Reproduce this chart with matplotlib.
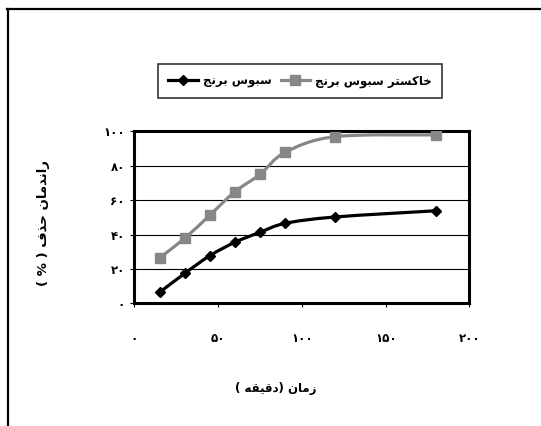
import numpy as np
import matplotlib
matplotlib.use('Agg')
import matplotlib.pyplot as plt
from matplotlib.path import Path
from matplotlib.patches import PathPatch
from matplotlib.lines import Line2D

# time (minutes) and removal efficiency (%) for both adsorbents
time_min = [15, 30, 45, 60, 75, 90, 120, 180]
ash_removal = [26.5, 37.8, 51.3, 64.9, 75.0, 87.8, 96.9, 97.9]
bran_removal = [6.4, 17.4, 27.7, 35.5, 41.3, 46.5, 50.2, 53.8]

x_ticks = [0, 50, 100, 150, 200]
y_ticks = [0, 20, 40, 60, 80, 100]

ASH_NAME = 'خاکستر سبوس برنج'
BRAN_NAME = 'سبوس برنج'
X_TITLE = 'زمان (دقیقه )'
Y_TITLE = 'راندمان حذف ( % )'

GRAY = '#878787'
BLACK = '#000000'

# contextual forms: isolated, final, initial, medial
FORMS = {
    'ا': ('\uFE8D', '\uFE8E', None, None),
    'ب': ('\uFE8F', '\uFE90', '\uFE91', '\uFE92'),
    'ت': ('\uFE95', '\uFE96', '\uFE97', '\uFE98'),
    'ج': ('\uFE9D', '\uFE9E', '\uFE9F', '\uFEA0'),
    'ح': ('\uFEA1', '\uFEA2', '\uFEA3', '\uFEA4'),
    'خ': ('\uFEA5', '\uFEA6', '\uFEA7', '\uFEA8'),
    'د': ('\uFEA9', '\uFEAA', None, None),
    'ذ': ('\uFEAB', '\uFEAC', None, None),
    'ر': ('\uFEAD', '\uFEAE', None, None),
    'ز': ('\uFEAF', '\uFEB0', None, None),
    'س': ('\uFEB1', '\uFEB2', '\uFEB3', '\uFEB4'),
    'ف': ('\uFED1', '\uFED2', '\uFED3', '\uFED4'),
    'ق': ('\uFED5', '\uFED6', '\uFED7', '\uFED8'),
    'ک': ('\uFB8E', '\uFB8F', '\uFB90', '\uFB91'),
    'م': ('\uFEE1', '\uFEE2', '\uFEE3', '\uFEE4'),
    'ن': ('\uFEE5', '\uFEE6', '\uFEE7', '\uFEE8'),
    'ه': ('\uFEE9', '\uFEEA', '\uFEEB', '\uFEEC'),
    'و': ('\uFEED', '\uFEEE', None, None),
    'ی': ('\uFBFC', '\uFBFD', '\uFBFE', '\uFBFF'),
}


def rtl(text):
    """Join Persian letters and flip to visual order for matplotlib."""
    out = []
    for i, ch in enumerate(text):
        if ch not in FORMS:
            out.append(ch)
            continue
        iso, fin, ini, med = FORMS[ch]
        prev = text[i - 1] if i > 0 else ''
        nxt = text[i + 1] if i + 1 < len(text) else ''
        j_prev = prev in FORMS and FORMS[prev][2] is not None
        j_next = ini is not None and nxt in FORMS
        if j_prev and j_next:
            out.append(med)
        elif j_prev:
            out.append(fin)
        elif j_next:
            out.append(ini)
        else:
            out.append(iso)
    vis = ''.join(out)[::-1]
    return vis.translate(str.maketrans('()', ')('))


def fa_num(n):
    return str(n).translate(str.maketrans('0123456789', '۰۱۲۳۴۵۶۷۸۹'))


def smooth_path(xs, ys):
    """Cubic Bezier path through the points (Catmull-Rom style)."""
    pts = np.column_stack([xs, ys]).astype(float)
    verts = [pts[0]]
    codes = [Path.MOVETO]
    n = len(pts)
    for i in range(n - 1):
        p0 = pts[max(i - 1, 0)]
        p1 = pts[i]
        p2 = pts[i + 1]
        p3 = pts[min(i + 2, n - 1)]
        c1 = p1 + (p2 - p0) / 6.0
        c2 = p2 - (p3 - p1) / 6.0
        verts += [c1, c2, p2]
        codes += [Path.CURVE4] * 3
    return Path(verts, codes)


plt.rcParams.update({
    'font.family': ['DejaVu Sans'],
    'font.weight': 'bold',
    'axes.linewidth': 2.2,
})

fig = plt.figure(figsize=(5.41, 4.26), dpi=100)
ax = fig.add_axes([0.2486, 0.288, 0.6192, 0.4038])

for yv in y_ticks[1:-1]:
    ax.axhline(yv, color=BLACK, lw=0.8, zorder=1)

ax.add_patch(PathPatch(smooth_path(time_min, ash_removal), fill=False,
                       edgecolor=GRAY, lw=2.3, zorder=3))
ax.plot(time_min, ash_removal, ls='none', marker='s', ms=6.5,
        color=GRAY, zorder=4)
ax.add_patch(PathPatch(smooth_path(time_min, bran_removal), fill=False,
                       edgecolor=BLACK, lw=2.3, zorder=5))
ax.plot(time_min, bran_removal, ls='none', marker='D', ms=5.5,
        color=BLACK, zorder=6)

ax.set_xlim(0, 200)
ax.set_ylim(0, 100)
ax.set_xticks(x_ticks)
ax.set_yticks(y_ticks)
ax.set_xticklabels([fa_num(v) for v in x_ticks], fontsize=8.5, fontweight='bold')
ax.set_yticklabels([fa_num(v) for v in y_ticks], fontsize=8.5, fontweight='bold')
ax.tick_params(axis='x', direction='out', length=3, width=0.8, pad=18)
ax.tick_params(axis='y', direction='out', length=3, width=0.8, pad=4)

ax.set_xlabel(rtl(X_TITLE), fontsize=8.5, fontweight='bold', va='center')
ax.xaxis.set_label_coords(0.4224, -0.4924)
ax.set_ylabel(rtl(Y_TITLE), fontsize=9.5, fontweight='bold',
              va='center', ha='center')
ax.yaxis.set_label_coords(-0.2731, 0.4669)

handles = [
    Line2D([], [], color=BLACK, lw=2.3, marker='D', ms=5.5),
    Line2D([], [], color=GRAY, lw=2.3, marker='s', ms=6.5),
]
leg = fig.legend(handles, [rtl(BRAN_NAME), rtl(ASH_NAME)], ncol=2,
                 loc='center', bbox_to_anchor=(0.5545, 0.8099),
                 frameon=True, fancybox=False, edgecolor=BLACK,
                 fontsize=8.5, handlelength=2.5, handletextpad=0.4,
                 columnspacing=0.8, borderpad=0.9, borderaxespad=0.0)
leg.get_frame().set_linewidth(1.2)
for t in leg.get_texts():
    t.set_fontweight('bold')

# outer chart border (top and left edges)
fig.add_artist(Line2D([0.0138, 1.0], [0.9777, 0.9777], color=BLACK, lw=1.6,
                      transform=fig.transFigure))
fig.add_artist(Line2D([0.0150, 0.0150], [0.0, 0.9777], color=BLACK, lw=1.6,
                      transform=fig.transFigure))

fig.savefig('out.png', dpi=100)
